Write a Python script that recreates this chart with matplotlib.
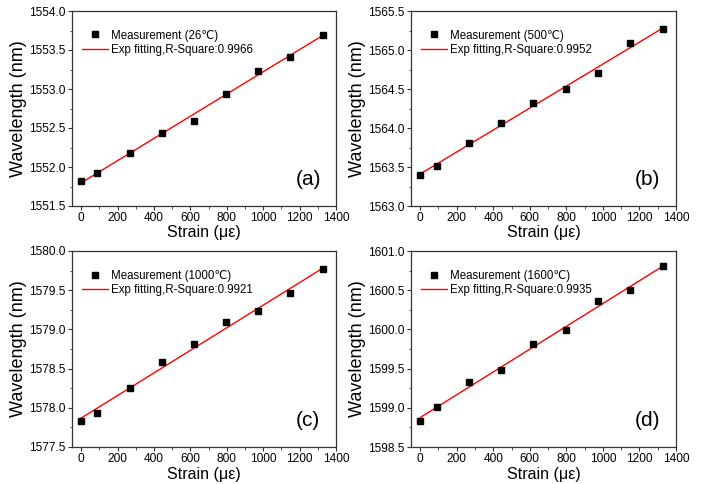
import numpy as np
import matplotlib
matplotlib.use("Agg")
import matplotlib.pyplot as plt
from matplotlib.ticker import MultipleLocator, FormatStrFormatter

plt.rcParams['font.family'] = ['Liberation Sans', 'DejaVu Sans']

# strain values (micro-strain), same for all four temperatures
strain = [0, 90, 266, 445, 619, 797, 974, 1150, 1327]

# measured wavelengths (nm)
wl_26 = [1551.82, 1551.925, 1552.176, 1552.44, 1552.593, 1552.94, 1553.235, 1553.413, 1553.698]
wl_500 = [1563.392, 1563.518, 1563.814, 1564.07, 1564.315, 1564.50, 1564.703, 1565.095, 1565.272]
wl_1000 = [1577.832, 1577.938, 1578.253, 1578.58, 1578.81, 1579.10, 1579.24, 1579.46, 1579.766]
wl_1600 = [1598.832, 1599.006, 1599.333, 1599.477, 1599.818, 1599.987, 1600.366, 1600.498, 1600.804]

temps = ["26", "500", "1000", "1600"]
rsq = ["0.9966", "0.9952", "0.9921", "0.9935"]
panels = ["(a)", "(b)", "(c)", "(d)"]
ylims = [(1551.5, 1554.0), (1563.0, 1565.5), (1577.5, 1580.0), (1598.5, 1601.0)]

W, H = 703, 484
# axes boxes in pixels: left, top, right, bottom
boxes = [(72, 11, 336, 206), (411, 11, 676, 206),
         (72, 251, 336, 447), (411, 251, 676, 447)]

fig = plt.figure(figsize=(W / 100, H / 100), dpi=100)

for ii, wl in enumerate([wl_26, wl_500, wl_1000, wl_1600]):
    l, t, r, b = boxes[ii]
    ax = fig.add_axes([l / W, 1 - b / H, (r - l) / W, (b - t) / H])

    # linear fit through the measurement
    p = np.polyfit(strain, wl, 1)
    xfit = np.array([strain[0], strain[-1]])
    ax.plot(xfit, np.polyval(p, xfit), "-", color="red", lw=1.0,
            label="Exp fitting,R-Square:" + rsq[ii], zorder=2)
    ax.plot(strain, wl, "s", color="black", ms=4.0, ls="none",
            label="Measurement (" + temps[ii] + "\u2103)", zorder=3)

    ax.set_xlim(-50, 1400)
    ax.set_ylim(*ylims[ii])
    ax.xaxis.set_major_locator(MultipleLocator(200))
    ax.xaxis.set_minor_locator(MultipleLocator(100))
    ax.yaxis.set_major_locator(MultipleLocator(0.5))
    ax.yaxis.set_minor_locator(MultipleLocator(0.25))
    ax.yaxis.set_major_formatter(FormatStrFormatter("%.1f"))
    ax.tick_params(which="both", direction="out", top=False, right=False,
                   labelsize=8.6, colors="#333333", labelcolor="black", pad=1.5)
    ax.tick_params(which="major", length=3)
    ax.tick_params(which="minor", length=1.8)
    for sp in ax.spines.values():
        sp.set_color("#333333")
        sp.set_linewidth(0.9)

    ax.set_xlabel("Strain (\u03bc\u03b5)", fontsize=11.5)
    ax.set_ylabel("Wavelength (nm)", fontsize=13)
    ax.xaxis.set_label_coords(0.5, -0.1)
    ax.yaxis.set_label_coords(-0.17, 0.5)

    handles, labels = ax.get_legend_handles_labels()
    ax.legend(handles[::-1], labels[::-1], loc="upper left",
              bbox_to_anchor=(0.038, 0.905), frameon=False, fontsize=8.3,
              handlelength=2.25, handletextpad=0.3, labelspacing=0.2,
              borderpad=0, borderaxespad=0)

    ax.text(0.894, 0.135, panels[ii], transform=ax.transAxes, fontsize=15,
            ha="center", va="center")

fig.savefig("out.png", dpi=100)
